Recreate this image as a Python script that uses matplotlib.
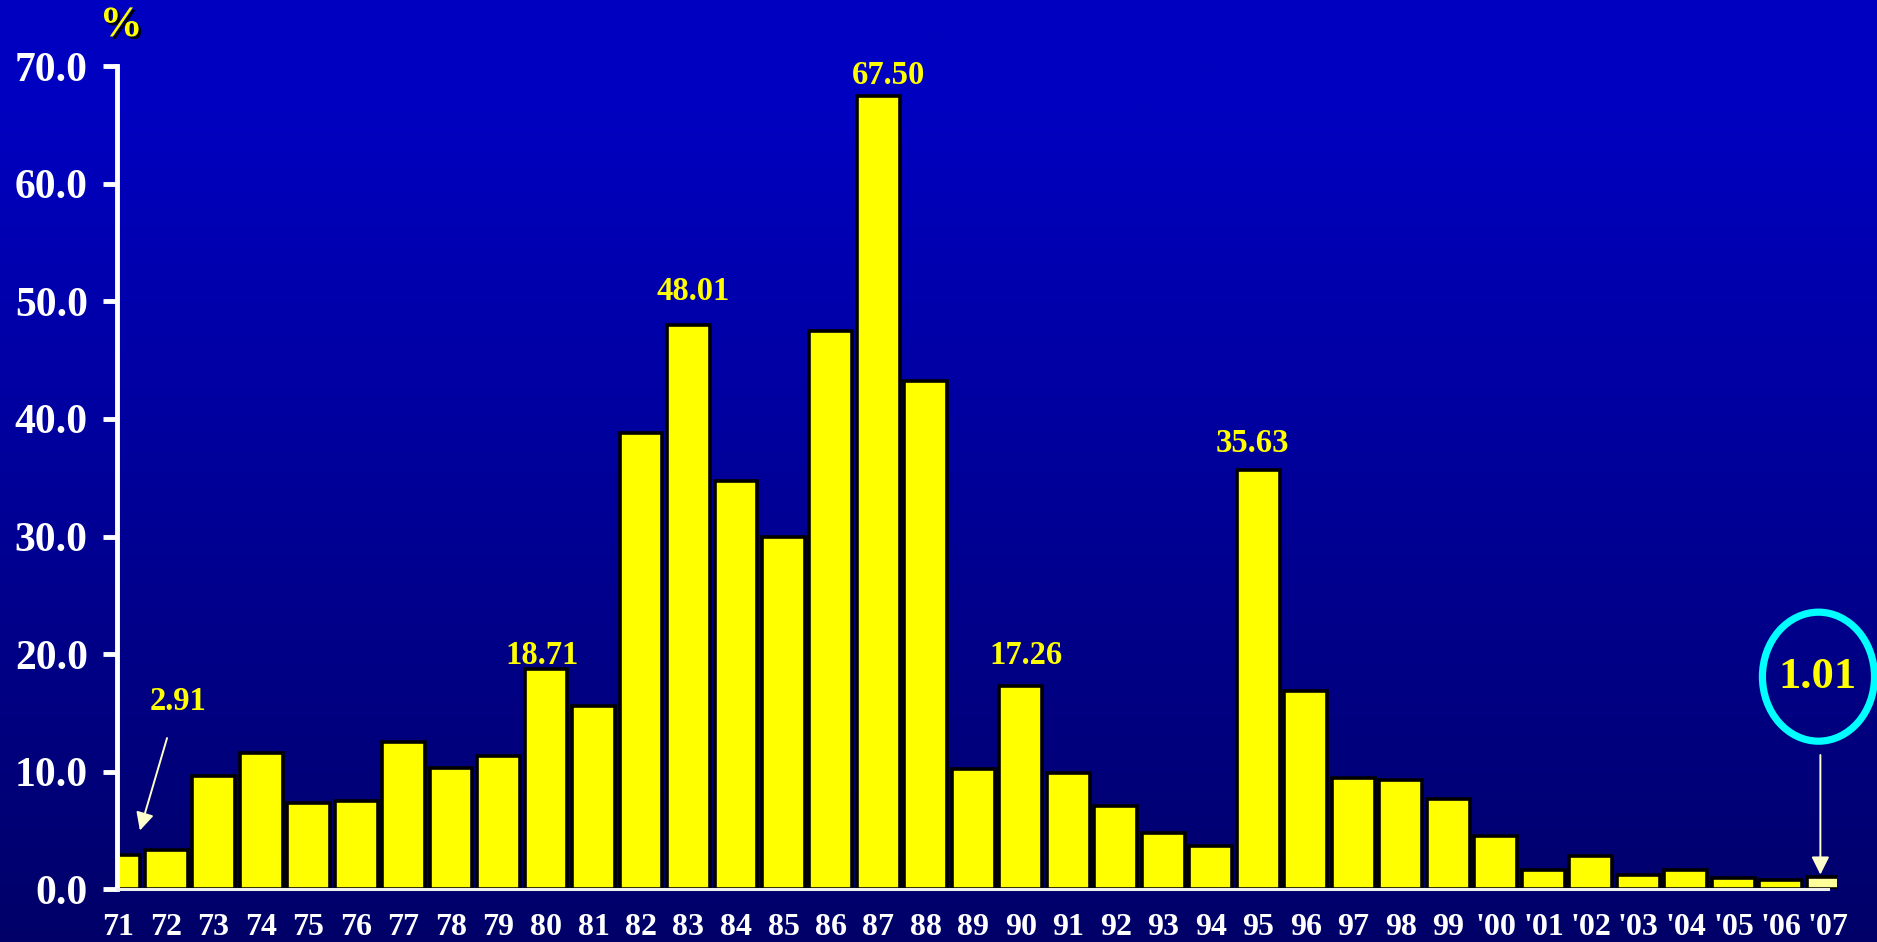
import numpy as np
import matplotlib
matplotlib.use("Agg")
import matplotlib.pyplot as plt
from matplotlib.patches import Ellipse
import matplotlib.patheffects as pe

# ---- data ----
years = ["71", "72", "73", "74", "75", "76", "77", "78", "79", "80", "81", "82",
         "83", "84", "85", "86", "87", "88", "89", "90", "91", "92", "93", "94",
         "95", "96", "97", "98", "99", "'00", "'01", "'02", "'03", "'04", "'05",
         "'06", "'07"]
inflation = [2.91, 3.3, 9.6, 11.6, 7.3, 7.5, 12.5, 10.3, 11.3, 18.71, 15.6, 38.8,
             48.01, 34.7, 30.0, 47.5, 67.50, 43.2, 10.2, 17.26, 9.9, 7.06, 4.8, 3.7,
             35.63, 16.9, 9.5, 9.3, 7.7, 4.56, 1.67, 2.81, 1.22, 1.67, 0.99,
             0.77, 1.01]
yticks = [0, 10, 20, 30, 40, 50, 60, 70]

# labelled bars (index) and label text
label_idx = [9, 12, 16, 19, 24]
label_dx = [-0.08, 0.1, 0.22, 0.1, -0.13]
label_dy = [1.2, 2.8, 1.7, 2.6, 2.3]

W, H = 1877, 942
fig = plt.figure(figsize=(W / 100, H / 100), dpi=100)

# gradient background
bg = fig.add_axes([0, 0, 1, 1], zorder=-10)
bg.axis("off")
t = np.linspace(0, 1, 400)
ramp = np.clip((t - 0.12) / 0.88, 0, 1)
top = np.array([0x00, 0x00, 0xC0]) / 255
bot = np.array([0x00, 0x00, 0x68]) / 255
cols = top[None, :] * (1 - ramp[:, None]) + bot[None, :] * ramp[:, None]
bg.imshow(cols[:, None, :], aspect="auto", extent=[0, 1, 0, 1])
bg.set_xlim(0, 1)
bg.set_ylim(0, 1)

serif = ["Liberation Serif", "DejaVu Serif"]

ax = fig.add_axes([117 / W, 1 - 889.3 / H, (1837 - 117) / W, 823.2 / H])
ax.set_facecolor("none")
x = np.arange(len(years))
colors = ["#FFFF00"] * (len(years) - 1) + ["#FFFF99"]
ax.bar(x, inflation, width=0.905, color=colors, edgecolor="black", linewidth=2.6, zorder=2)

ax.set_xlim(-0.032, 36.18)
ax.set_ylim(0, 70)

for s in ["top", "right"]:
    ax.spines[s].set_visible(False)
ax.spines["left"].set_color("white")
ax.spines["left"].set_linewidth(3.5)
ax.spines["left"].set_bounds(0, 70)
ax.spines["left"].set_zorder(5)
ax.spines["bottom"].set_color("#F0F0F0")
ax.spines["bottom"].set_linewidth(2.2)
ax.spines["bottom"].set_bounds(-0.032, 36)
ax.spines["bottom"].set_zorder(5)

ax.set_yticks(yticks)
ax.set_yticklabels([f"{v:.1f}" for v in yticks])
ax.set_xticks(x)
ax.set_xticklabels(years)
ax.tick_params(axis="y", direction="out", length=10, width=3.5, color="white",
               pad=11, labelcolor="white", labelsize=30)
ax.tick_params(axis="x", direction="in", length=6, width=1.8, color="white",
               pad=17, labelcolor="white", labelsize=23)
for lab in ax.get_xticklabels() + ax.get_yticklabels():
    lab.set_fontfamily(serif)
    lab.set_fontweight("bold")

# value labels
for i, dx, dy in zip(label_idx, label_dx, label_dy):
    ax.text(x[i] + dx, inflation[i] + dy, f"{inflation[i]:.2f}", ha="center",
            va="center", color="#FFFF00", fontsize=23.5, fontweight="bold",
            family=serif, zorder=6)

arrow_kw = dict(arrowstyle="-|>,head_length=0.9,head_width=0.45",
                color="#FFFFCC", lw=1.4, mutation_scale=12)

# 2.91 annotation with arrow
ax.annotate(f"{inflation[0]:.2f}", xy=(0.45, 5.0), xytext=(1.25, 16.0),
            ha="center", va="center", color="#FFFF00", fontsize=23.5,
            fontweight="bold", family=serif, annotation_clip=False,
            arrowprops=dict(shrinkA=14, shrinkB=0, **arrow_kw))

# 1.01 circled
last = len(years) - 1
ell = Ellipse((35.79, 18.08), 2.36, 10.97, fill=False, edgecolor="#00FFFF",
              linewidth=5.2, clip_on=False, zorder=6)
ax.add_patch(ell)
ax.text(35.77, 18.08, f"{inflation[last]:.2f}", ha="center", va="center",
        color="#FFFF00", fontsize=32, fontweight="bold", family=serif, zorder=7)
ax.annotate("", xy=(35.83, 1.25), xytext=(35.83, 11.42), annotation_clip=False,
            arrowprops=dict(shrinkA=0, shrinkB=0, **arrow_kw))

# % unit label
fig.text(121 / W, 1 - 26 / H, "%", ha="center", va="center", color="#FFFF00",
         fontsize=31, fontweight="bold", family=serif,
         path_effects=[pe.withSimplePatchShadow(offset=(1.8, -1.8),
                                                shadow_rgbFace="black", alpha=1)])

fig.savefig("out.png", dpi=100)
